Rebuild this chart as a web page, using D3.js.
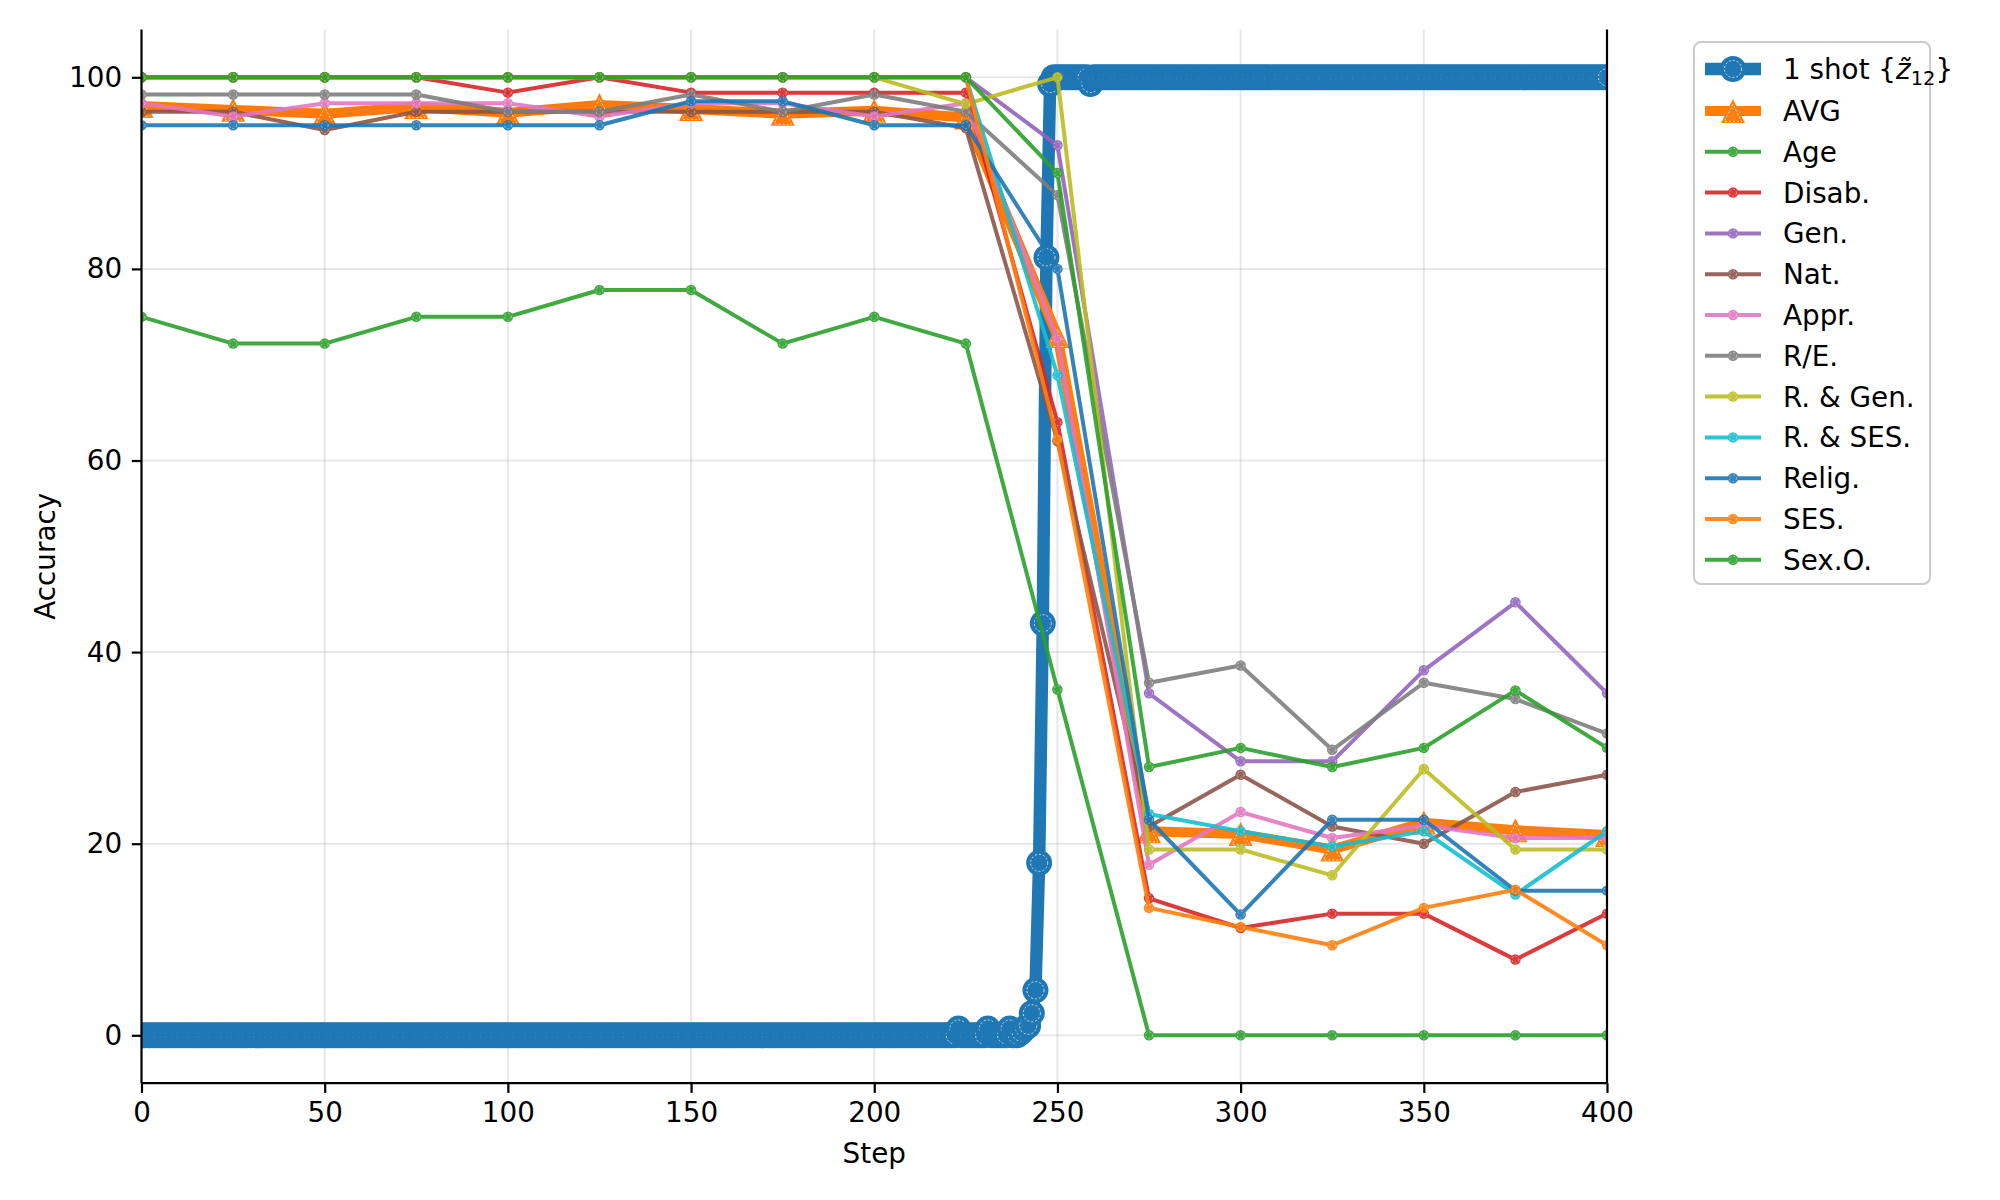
<!DOCTYPE html>
<html>
<head>
<meta charset="utf-8">
<script src="https://cdn.jsdelivr.net/npm/d3@7"></script>
<style>
  body { margin: 0; background: #fff; }
  svg text { font-family: "DejaVu Sans", sans-serif; fill: #000; }
</style>
</head>
<body>
<svg id="acc-chart" width="2000" height="1200"></svg>
<script>
// evaluation steps for the per-category curves
const steps = [0, 25, 50, 75, 100, 125, 150, 175, 200, 225, 250, 275, 300, 325, 350, 375, 400];

const avg = [97.0, 96.6, 96.2, 96.9, 96.3, 97.1, 96.7, 96.2, 96.5, 95.8, 73.0, 21.3, 21.0, 19.4, 22.2, 21.4, 20.9];
const age = [75, 72.2, 72.2, 75, 75, 77.8, 77.8, 72.2, 75, 72.2, 36.1, 0, 0, 0, 0, 0, 0];
const disab = [100, 100, 100, 100, 98.4, 100, 98.4, 98.4, 98.4, 98.4, 64, 14.3, 11.2, 12.7, 12.7, 7.9, 12.7];
const gen = [100, 100, 100, 100, 100, 100, 100, 100, 100, 100, 92.9, 35.7, 28.6, 28.6, 38.1, 45.2, 35.7];
const nat = [96.4, 96.4, 94.5, 96.4, 96.4, 96.4, 96.4, 96.4, 96.4, 94.7, 62, 21.8, 27.2, 21.8, 20.0, 25.4, 27.2];
const appr = [97.3, 95.9, 97.3, 97.3, 97.3, 95.9, 97.3, 97.3, 95.9, 97.3, 72.7, 17.8, 23.3, 20.6, 21.9, 20.6, 20.6];
const raceEth = [98.2, 98.2, 98.2, 98.2, 96.4, 96.4, 98.2, 96.4, 98.2, 96.4, 87.7, 36.8, 38.6, 29.8, 36.8, 35.1, 31.5];
const raceGen = [100, 100, 100, 100, 100, 100, 100, 100, 100, 97.2, 100, 19.4, 19.4, 16.7, 27.8, 19.4, 19.4];
const raceSes = [100, 100, 100, 100, 100, 100, 100, 100, 100, 100, 68.9, 23.1, 21.3, 19.7, 21.3, 14.7, 21.3];
const relig = [95, 95, 95, 95, 95, 95, 97.5, 97.5, 95, 95, 80, 22.5, 12.6, 22.5, 22.5, 15.1, 15.1];
const ses = [100, 100, 100, 100, 100, 100, 100, 100, 100, 100, 62.2, 13.3, 11.3, 9.4, 13.3, 15.2, 9.4];
const sexO = [100, 100, 100, 100, 100, 100, 100, 100, 100, 100, 90, 28, 30, 28, 30, 36, 30];

// 1 shot curve, one value per step 0..400
const oneShot = [
  0, 0, 0, 0, 0, 0, 0, 0, 0, 0, 0, 0, 0, 0, 0, 0, 0, 0, 0, 0, 0, 0, 0, 0, 0,
  0, 0, 0, 0, 0, 0, 0, 0, 0, 0, 0, 0, 0, 0, 0, 0, 0, 0, 0, 0, 0, 0, 0, 0, 0,
  0, 0, 0, 0, 0, 0, 0, 0, 0, 0, 0, 0, 0, 0, 0, 0, 0, 0, 0, 0, 0, 0, 0, 0, 0,
  0, 0, 0, 0, 0, 0, 0, 0, 0, 0, 0, 0, 0, 0, 0, 0, 0, 0, 0, 0, 0, 0, 0, 0, 0,
  0, 0, 0, 0, 0, 0, 0, 0, 0, 0, 0, 0, 0, 0, 0, 0, 0, 0, 0, 0, 0, 0, 0, 0, 0,
  0, 0, 0, 0, 0, 0, 0, 0, 0, 0, 0, 0, 0, 0, 0, 0, 0, 0, 0, 0, 0, 0, 0, 0, 0,
  0, 0, 0, 0, 0, 0, 0, 0, 0, 0, 0, 0, 0, 0, 0, 0, 0, 0, 0, 0, 0, 0, 0, 0, 0,
  0, 0, 0, 0, 0, 0, 0, 0, 0, 0, 0, 0, 0, 0, 0, 0, 0, 0, 0, 0, 0, 0, 0, 0, 0,
  0, 0, 0, 0, 0, 0, 0, 0, 0, 0, 0, 0, 0, 0, 0, 0, 0, 0, 0, 0, 0, 0, 0, 0.7, 0,
  0, 0, 0, 0, 0, 0, 0.7, 0, 0, 0, 0, 0, 0.7, 0, 0, 0.3, 0.7, 1.0, 2.3, 4.7, 18.0, 43.0, 81.2, 99.3, 100,
  100, 100, 100, 100, 100, 100, 100, 100, 100, 99.3, 100, 100, 100, 100, 100, 100, 100, 100, 100, 100, 100, 100, 100, 100, 100,
  100, 100, 100, 100, 100, 100, 100, 100, 100, 100, 100, 100, 100, 100, 100, 100, 100, 100, 100, 100, 100, 100, 100, 100, 100,
  100, 100, 100, 100, 100, 100, 100, 100, 100, 100, 100, 100, 100, 100, 100, 100, 100, 100, 100, 100, 100, 100, 100, 100, 100,
  100, 100, 100, 100, 100, 100, 100, 100, 100, 100, 100, 100, 100, 100, 100, 100, 100, 100, 100, 100, 100, 100, 100, 100, 100,
  100, 100, 100, 100, 100, 100, 100, 100, 100, 100, 100, 100, 100, 100, 100, 100, 100, 100, 100, 100, 100, 100, 100, 100, 100,
  100, 100, 100, 100, 100, 100, 100, 100, 100, 100, 100, 100, 100, 100, 100, 100, 100, 100, 100, 100, 100, 100, 100, 100, 100,
  100,
];

const xTicks = [0, 50, 100, 150, 200, 250, 300, 350, 400];
const yTicks = [0, 20, 40, 60, 80, 100];

const seriesNames = ["Age", "Disab.", "Gen.", "Nat.", "Appr.", "R/E.", "R. & Gen.", "R. & SES.", "Relig.", "SES.", "Sex.O."];
const seriesValues = [age, disab, gen, nat, appr, raceEth, raceGen, raceSes, relig, ses, sexO];

const chartArea = d3.select("svg#acc-chart");
const fontSize = 27.8;
const tab10 = d3.schemeCategory10;

const plot = { left: 141.5, right: 1607, top: 29.4, bottom: 1083.2 };
const xScale = d3.scaleLinear().domain([0, 400]).range([plot.left, plot.right]);
const yScale = d3.scaleLinear().domain([-5, 105]).range([plot.bottom, plot.top]);

chartArea
  .append("defs")
  .append("clipPath")
  .attr("id", "plot-clip")
  .append("rect")
  .attr("x", plot.left)
  .attr("y", plot.top)
  .attr("width", plot.right - plot.left)
  .attr("height", plot.bottom - plot.top);

// grid lines
const grid = chartArea.append("g").attr("class", "grid");
grid
  .selectAll("line.vgrid")
  .data(xTicks)
  .join("line")
  .attr("class", "vgrid")
  .attr("x1", (d) => xScale(d))
  .attr("x2", (d) => xScale(d))
  .attr("y1", plot.top)
  .attr("y2", plot.bottom)
  .attr("stroke", "#b0b0b0")
  .attr("stroke-opacity", 0.3)
  .attr("stroke-width", 2);
grid
  .selectAll("line.hgrid")
  .data(yTicks)
  .join("line")
  .attr("class", "hgrid")
  .attr("x1", plot.left)
  .attr("x2", plot.right)
  .attr("y1", (d) => yScale(d))
  .attr("y2", (d) => yScale(d))
  .attr("stroke", "#b0b0b0")
  .attr("stroke-opacity", 0.3)
  .attr("stroke-width", 2);

const lineGen = d3
  .line()
  .x((d) => xScale(d[0]))
  .y((d) => yScale(d[1]));

const trianglePath = (s) => `M0,${-s / 2}L${-s / 2},${s / 2}L${s / 2},${s / 2}Z`;

// one marker with the light seam ring matplotlib leaves inside it
function drawMarker(g, opts) {
  if (opts.marker === "triangle") {
    g.append("path").attr("d", trianglePath(opts.size)).attr("fill", opts.color);
    g.append("path")
      .attr("d", trianglePath(opts.size * 0.72))
      .attr("transform", `translate(0,${opts.size * 0.08})`)
      .attr("fill", "none")
      .attr("stroke", "#fff")
      .attr("stroke-opacity", 0.7)
      .attr("stroke-width", 1)
      .attr("stroke-dasharray", "2,2");
  } else {
    g.append("circle").attr("r", opts.size / 2).attr("fill", opts.color);
    g.append("circle")
      .attr("r", opts.size * 0.33)
      .attr("fill", "none")
      .attr("stroke", "#fff")
      .attr("stroke-opacity", opts.ringOpacity)
      .attr("stroke-width", 1)
      .attr("stroke-dasharray", "2,2");
  }
}

// draws one series: the line first, then its markers
function drawSeries(parent, pts, opts) {
  const g = parent.append("g").attr("opacity", opts.opacity);
  g.append("path")
    .attr("d", lineGen(pts))
    .attr("fill", "none")
    .attr("stroke", opts.color)
    .attr("stroke-width", opts.lw)
    .attr("stroke-linejoin", "round");
  pts.forEach((p) => {
    const mg = g
      .append("g")
      .attr("transform", `translate(${xScale(p[0])},${yScale(p[1])})`);
    drawMarker(mg, opts);
  });
}

const oneShotStyle = { color: tab10[0], lw: 12.5, size: 26, marker: "circle", opacity: 1, ringOpacity: 0.75 };
const avgStyle = { color: tab10[1], lw: 10, size: 24, marker: "triangle", opacity: 1 };
const thinStyle = (k) => ({ color: tab10[(k + 2) % 10], lw: 4, size: 10.5, marker: "circle", opacity: 0.9, ringOpacity: 0.45 });

const dataLayer = chartArea.append("g").attr("clip-path", "url(#plot-clip)");

drawSeries(dataLayer, oneShot.map((v, i) => [i, v]), oneShotStyle);
drawSeries(dataLayer, avg.map((v, i) => [steps[i], v]), avgStyle);
seriesValues.forEach((vals, k) => {
  drawSeries(dataLayer, vals.map((v, i) => [steps[i], v]), thinStyle(k));
});

// axes
const xAxis = d3
  .axisBottom(xScale)
  .tickValues(xTicks)
  .tickSizeInner(9.7)
  .tickSizeOuter(0)
  .tickPadding(9.7);
const yAxis = d3
  .axisLeft(yScale)
  .tickValues(yTicks)
  .tickSizeInner(9.7)
  .tickSizeOuter(0)
  .tickPadding(9.7);

const xg = chartArea
  .append("g")
  .attr("transform", `translate(0,${plot.bottom})`)
  .call(xAxis);
const yg = chartArea
  .append("g")
  .attr("transform", `translate(${plot.left},0)`)
  .call(yAxis);
[xg, yg].forEach((g) => {
  g.select(".domain").attr("stroke", "#000").attr("stroke-width", 2.2);
  g.selectAll(".tick line").attr("stroke", "#000").attr("stroke-width", 2.2);
  g.selectAll(".tick text")
    .attr("font-size", fontSize)
    .attr("font-family", "DejaVu Sans")
    .attr("fill", "#000");
});
yg.select(".domain").attr("d", `M0,${plot.bottom}V${plot.top}`);
xg.select(".domain").attr("d", `M${plot.left},0H${plot.right}`);

// right spine
chartArea
  .append("line")
  .attr("x1", plot.right)
  .attr("x2", plot.right)
  .attr("y1", plot.top)
  .attr("y2", plot.bottom)
  .attr("stroke", "#000")
  .attr("stroke-width", 2.2);

chartArea
  .append("text")
  .attr("x", (plot.left + plot.right) / 2)
  .attr("y", 1163)
  .attr("text-anchor", "middle")
  .attr("font-size", fontSize)
  .text("Step");

chartArea
  .append("text")
  .attr("transform", `translate(55,${(plot.top + plot.bottom) / 2}) rotate(-90)`)
  .attr("text-anchor", "middle")
  .attr("font-size", fontSize)
  .text("Accuracy");

// legend
const legend = chartArea.append("g").attr("class", "legend");
legend
  .append("rect")
  .attr("x", 1694)
  .attr("y", 42)
  .attr("width", 236)
  .attr("height", 542)
  .attr("rx", 7)
  .attr("fill", "#fff")
  .attr("fill-opacity", 0.8)
  .attr("stroke", "#cccccc")
  .attr("stroke-width", 2);

const legendRowY = (i) => (i === 0 ? 69 : 111 + 40.8 * (i - 1));
const hx0 = 1705;
const hx1 = 1761;
const textX = 1783;

function legendHandle(i, opts) {
  const y = legendRowY(i);
  const g = legend.append("g").attr("opacity", opts.opacity);
  g.append("line")
    .attr("x1", hx0)
    .attr("x2", hx1)
    .attr("y1", y)
    .attr("y2", y)
    .attr("stroke", opts.color)
    .attr("stroke-width", opts.lw);
  drawMarker(g.append("g").attr("transform", `translate(${(hx0 + hx1) / 2},${y})`), opts);
}

legendHandle(0, oneShotStyle);
legendHandle(1, avgStyle);
seriesNames.forEach((name, k) => legendHandle(k + 2, thinStyle(k)));

// first label uses math text: 1 shot {z̃_12}
const firstLabel = legend
  .append("text")
  .attr("x", textX)
  .attr("y", legendRowY(0))
  .attr("dy", "0.36em")
  .attr("font-size", fontSize);
firstLabel.append("tspan").text("1 shot {");
firstLabel.append("tspan").attr("font-style", "italic").text("z\u0303");
firstLabel.append("tspan").attr("font-size", fontSize * 0.7).attr("dy", 6).text("12");
firstLabel.append("tspan").attr("dy", -6).text("}");

const otherLabels = ["AVG"].concat(seriesNames);
otherLabels.forEach((name, k) => {
  legend
    .append("text")
    .attr("x", textX)
    .attr("y", legendRowY(k + 1))
    .attr("dy", "0.36em")
    .attr("font-size", fontSize)
    .text(name);
});
</script>
</body>
</html>
